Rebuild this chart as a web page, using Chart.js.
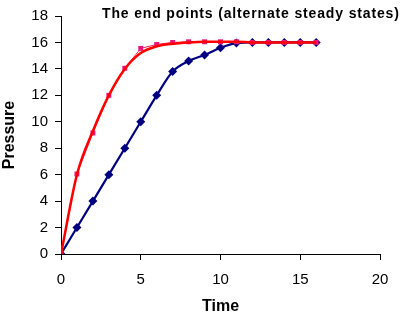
<!DOCTYPE html>
<html>
<head>
<meta charset="utf-8">
<script src="https://cdn.jsdelivr.net/npm/chart.js@4"></script>
<style>
  html, body { margin: 0; padding: 0; background: #fff; }
  #wrap { width: 402px; height: 316px; }
</style>
</head>
<body>
<div id="wrap"><canvas id="pressChart" width="402" height="316"></canvas></div>
<script>
// values
var times = [0, 1, 2, 3, 4, 5, 6, 7, 8, 9, 10, 11, 12, 13, 14, 15, 16];
var bluePressure = [0, 2, 4, 6, 8, 10, 12, 13.8, 14.6, 15.05, 15.6, 15.95, 16, 16, 16, 16, 16];
var redPressure = [0, 6.05, 9.15, 12, 14.05, 15.55, 15.85, 16, 16.05, 16.05, 16.05, 16.05, 16, 16, 16, 16, 16];
var redFit = [0, 6.0, 9.3, 12.0, 14.0, 15.2, 15.7, 15.9, 16, 16.05, 16.05, 16.05, 16, 16, 16, 16, 16];
var xTicks = [0, 5, 10, 15, 20];
var yTicks = [0, 2, 4, 6, 8, 10, 12, 14, 16, 18];
var chartTitle = "The end points (alternate steady states)";

var FONT = "'Liberation Sans', Arial, sans-serif";

function pts(ys) {
	var out = [];
	for (var i = 0; i < times.length; i++) {
		out.push({x: times[i], y: ys[i]});
	}
	return out;
}

// title sits inside the plot area, so draw it by hand
var titlePlugin = {
	id: 'innerTitle',
	afterDraw: function(chart) {
		var ctx = chart.ctx;
		ctx.save();
		ctx.font = "bold 14px " + FONT;
		ctx.letterSpacing = "0.85px";
		ctx.fillStyle = "#000";
		ctx.textAlign = "left";
		ctx.textBaseline = "alphabetic";
		ctx.fillText(chartTitle, 102, 18);
		ctx.restore();
	}
};

var ctx = document.getElementById("pressChart").getContext('2d');

// chart.js paints dataset 0 last, so the red ones go first to sit on top
var pressChart = new Chart(ctx, {
	type: 'line',
	data: {
		datasets: [{
			label: 'fit',
			data: pts(redFit),
			borderColor: '#ff0000',
			borderWidth: 2.5,
			pointRadius: 0,
			cubicInterpolationMode: 'monotone',
			fill: false
		},
		{
			label: 'red points',
			data: pts(redPressure),
			borderColor: '#ff2050',
			borderWidth: 1,
			pointStyle: 'rect',
			pointRadius: 3.5,
			pointBackgroundColor: '#e8157a',
			pointBorderColor: '#e8157a',
			pointBorderWidth: 0,
			tension: 0,
			fill: false
		},
		{
			label: 'blue points',
			data: pts(bluePressure),
			borderColor: '#000080',
			borderWidth: 2.2,
			pointStyle: 'rectRot',
			pointRadius: 4.5,
			pointBackgroundColor: '#000080',
			pointBorderColor: '#000080',
			pointBorderWidth: 0,
			cubicInterpolationMode: 'monotone',
			fill: false
		}]
	},
	options: {
		responsive: false,
		animation: false,
		devicePixelRatio: 1,
		layout: {
			padding: {top: 10, right: 22, left: 0, bottom: 0}
		},
		plugins: {
			legend: {display: false},
			tooltip: {enabled: false},
			title: {display: false}
		},
		scales: {
			x: {
				type: 'linear',
				min: 0,
				max: 20,
				afterBuildTicks: function(scale) {
					scale.ticks = xTicks.map(function(v) { return {value: v}; });
				},
				afterFit: function(scale) { scale.height = 62; },
				ticks: {
					color: '#000',
					font: {family: FONT, size: 15},
					padding: 11,
					maxRotation: 0
				},
				grid: {
					display: true,
					drawOnChartArea: false,
					drawTicks: true,
					tickLength: 6,
					color: '#000'
				},
				border: {color: '#000', width: 1},
				title: {
					display: true,
					text: 'Time',
					color: '#000',
					font: {family: FONT, size: 16, weight: 'bold'},
					padding: {top: 0, bottom: 0}
				}
			},
			y: {
				type: 'linear',
				min: 0,
				max: 18,
				afterBuildTicks: function(scale) {
					scale.ticks = yTicks.map(function(v) { return {value: v}; });
				},
				afterFit: function(scale) { scale.width = 61; },
				ticks: {
					color: '#000',
					font: {family: FONT, size: 15},
					padding: 7
				},
				grid: {
					display: true,
					drawOnChartArea: false,
					drawTicks: true,
					tickLength: 6,
					color: '#000'
				},
				border: {color: '#000', width: 1},
				title: {
					display: true,
					text: 'Pressure',
					color: '#000',
					font: {family: FONT, size: 16, weight: 'bold'},
					padding: {top: 0, bottom: 0}
				}
			}
		}
	},
	plugins: [titlePlugin]
});
</script>
</body>
</html>
